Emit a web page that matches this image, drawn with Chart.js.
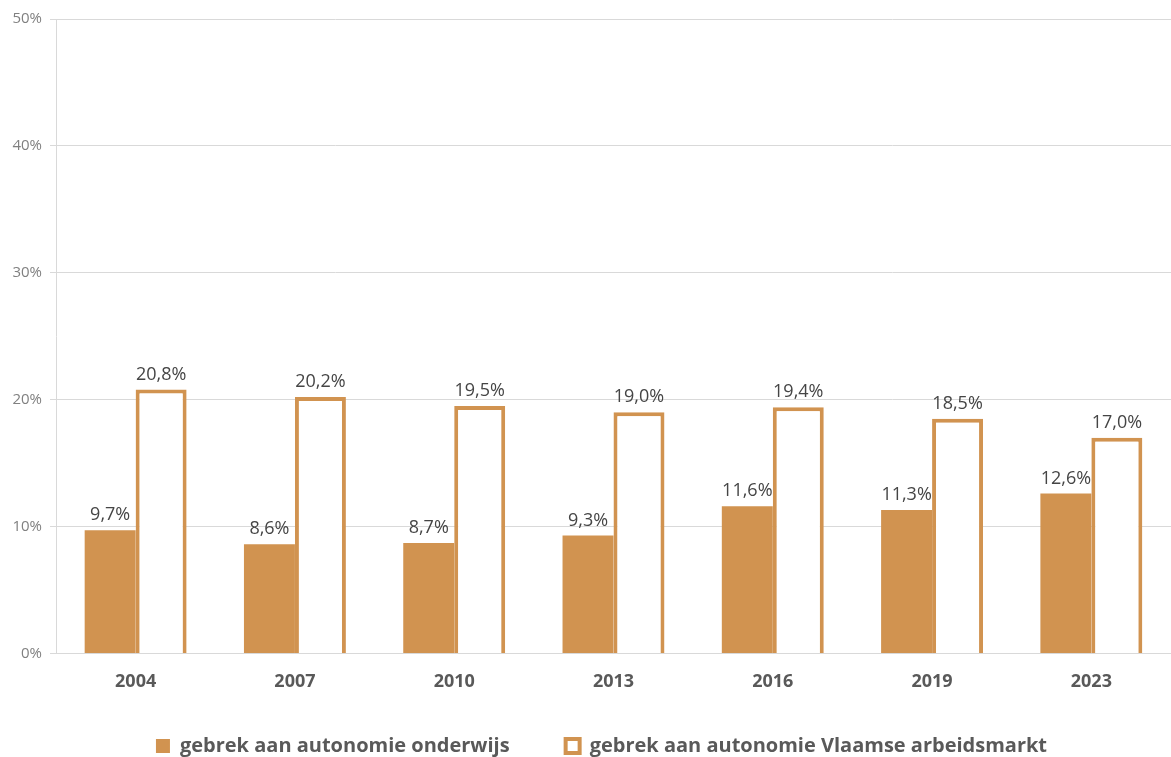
<!DOCTYPE html>
<html>
<head>
<meta charset="utf-8">
<script src="https://cdn.jsdelivr.net/npm/chart.js@4/dist/chart.umd.min.js"></script>
<style>
  html, body { margin: 0; padding: 0; background: #fff; overflow: hidden; }
  #wrap { width: 1171px; height: 789px; }
</style>
</head>
<body>
<div id="wrap"><canvas id="chart"></canvas></div>
<script>
const years = ["2004", "2007", "2010", "2013", "2016", "2019", "2023"]
const onderwijs = [9.7, 8.6, 8.7, 9.3, 11.6, 11.3, 12.6]
const arbeidsmarkt = [20.8, 20.2, 19.5, 19.0, 19.4, 18.5, 17.0]
const yTicks = [0, 10, 20, 30, 40, 50]

const orange = "#D19350"
const fmt = (v) => v.toFixed(1).replace(".", ",") + "%"

// waarden boven de staven
const valueLabels = {
  id: "valueLabels",
  afterDatasetsDraw(chart) {
    const ctx = chart.ctx
    ctx.save()
    ctx.font = "18px 'Open Sans'"
    ctx.fillStyle = "#454545"
    ctx.textAlign = "center"
    ctx.textBaseline = "bottom"
    chart.data.datasets.forEach((ds, i) => {
      chart.getDatasetMeta(i).data.forEach((bar, j) => {
        ctx.fillText(fmt(ds.data[j]), bar.x, bar.y - 6)
      })
    })
    ctx.restore()
  }
}

// legenda iets dichter bij de as (padding is ook horizontale tussenruimte)
const legendUp = {
  id: "legendUp",
  afterLayout(chart) {
    if (chart.legend) {
      chart.legend.top -= 23
      chart.legend.bottom -= 23
      chart.legend.left -= 12
      chart.legend.right -= 12
    }
  }
}

new Chart(document.getElementById("chart"), {
  type: "bar",
  data: {
    labels: years,
    datasets: [
      {
        label: "gebrek aan autonomie onderwijs",
        data: onderwijs,
        backgroundColor: orange,
        borderColor: orange,
        borderWidth: 0
      },
      {
        label: "gebrek aan autonomie Vlaamse arbeidsmarkt",
        data: arbeidsmarkt,
        backgroundColor: "#ffffff",
        borderColor: orange,
        borderWidth: 4
      }
    ]
  },
  options: {
    responsive: true,
    maintainAspectRatio: false,
    animation: false,
    layout: { padding: { top: 19, right: 0, left: 0, bottom: 0 } },
    categoryPercentage: 0.64,
    barPercentage: 1,
    plugins: {
      tooltip: { enabled: false },
      legend: {
        display: true,
        position: "bottom",
        fullSize: false,
        labels: {
          font: { family: "'Open Sans'", size: 20, weight: "bold" },
          color: "#595959",
          boxWidth: 14,
          boxHeight: 14,
          padding: 56
        }
      }
    },
    scales: {
      x: {
        grid: { display: false },
        border: { color: "#d9d9d9" },
        ticks: {
          font: { family: "'Open Sans'", size: 18, weight: "bold" },
          color: "#595959",
          padding: 10
        }
      },
      y: {
        min: 0,
        max: 50,
        afterBuildTicks: (scale) => { scale.ticks = yTicks.map(v => ({ value: v })) },
        afterFit: (scale) => { scale.width = 56 },
        grid: { color: "#d9d9d9", tickLength: 6 },
        border: { color: "#d9d9d9" },
        ticks: {
          font: { family: "'Open Sans'", size: 15 },
          color: "#808080",
          padding: 8,
          callback: (v) => v + "%"
        }
      }
    }
  },
  plugins: [valueLabels, legendUp]
})
</script>
</body>
</html>
